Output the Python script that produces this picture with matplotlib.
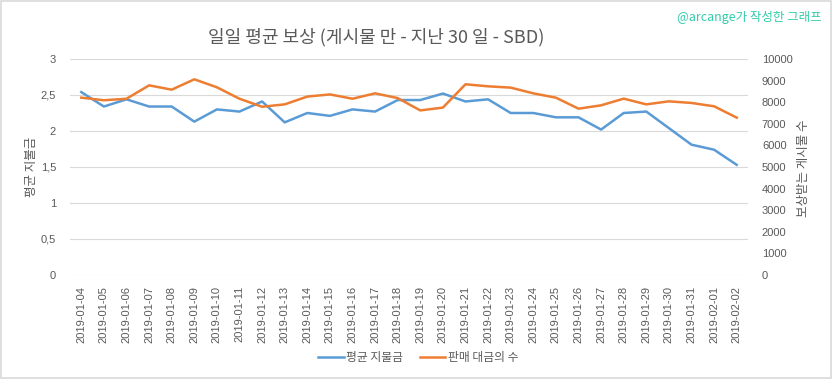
import numpy as np
import matplotlib
matplotlib.use("Agg")
from matplotlib import pyplot as plt
from matplotlib.patches import Rectangle

plt.rcParams['font.family'] = ['Noto Sans CJK KR', 'DejaVu Sans']

dates = ['2019-01-04', '2019-01-05', '2019-01-06', '2019-01-07', '2019-01-08',
         '2019-01-09', '2019-01-10', '2019-01-11', '2019-01-12', '2019-01-13',
         '2019-01-14', '2019-01-15', '2019-01-16', '2019-01-17', '2019-01-18',
         '2019-01-19', '2019-01-20', '2019-01-21', '2019-01-22', '2019-01-23',
         '2019-01-24', '2019-01-25', '2019-01-26', '2019-01-27', '2019-01-28',
         '2019-01-29', '2019-01-30', '2019-01-31', '2019-02-01', '2019-02-02']

pago_medio = [2.54, 2.34, 2.44, 2.34, 2.34, 2.13, 2.30, 2.27, 2.41, 2.12,
              2.25, 2.21, 2.30, 2.27, 2.43, 2.43, 2.52, 2.41, 2.44, 2.25,
              2.25, 2.19, 2.19, 2.02, 2.25, 2.27, 2.04, 1.81, 1.74, 1.53]

num_posts = [8210, 8090, 8160, 8780, 8580, 9060, 8690, 8160, 7790, 7900,
             8260, 8360, 8160, 8410, 8190, 7620, 7750, 8830, 8735, 8675,
             8410, 8210, 7700, 7855, 8165, 7900, 8040, 7965, 7810, 7285]

izq_ticks = [0, 0.5, 1, 1.5, 2, 2.5, 3]
izq_labels = ['0', '0,5', '1', '1,5', '2', '2,5', '3']
der_ticks = list(range(0, 10001, 1000))

AZUL = '#5B9BD5'
NARANJA = '#ED7D31'
GRIS = '#595959'
num_font = ['Liberation Sans', 'DejaVu Sans']

fig = plt.figure(figsize=(8.33, 3.79), dpi=100)
ax = fig.add_axes([70/833, 1-275/379, (748-70)/833, (275-59)/379])
ax2 = ax.twinx()

x = np.arange(len(dates))
l1, = ax.plot(x, pago_medio, color=AZUL, lw=1.8, label='평균 지불금')
l2, = ax2.plot(x, num_posts, color=NARANJA, lw=1.8, label='판매 대금의 수')

ax.set_xlim(-0.5, len(dates) - 0.5)
ax.set_ylim(0, 3)
ax2.set_ylim(0, 10000)
ax.set_yticks(izq_ticks)
ax.set_yticklabels(izq_labels, family=num_font, fontsize=8, color=GRIS)
ax2.set_yticks(der_ticks)
ax2.set_yticklabels([str(t) for t in der_ticks], family=num_font, fontsize=8, color=GRIS)
ax.set_xticks(x)
ax.set_xticklabels(dates, rotation=90, family=num_font, fontsize=8, color=GRIS)

ax.grid(True, axis='y', color='#D9D9D9', lw=0.8)
ax.set_axisbelow(True)
for a in (ax, ax2):
    for s in a.spines.values():
        s.set_visible(False)
    a.tick_params(length=0)
ax.tick_params(axis='y', pad=10)
ax2.tick_params(axis='y', pad=10)
ax.tick_params(axis='x', pad=8)

fig.text(376/833, 1-37/379, '일일 평균 보상 (게시물 만 - 지난 30 일 - SBD)',
         ha='center', va='center', fontsize=13, color=GRIS)
fig.text(822/833, 1-18/379, '@arcange가 작성한 그래프', ha='right', va='center',
         fontsize=9, color='#33CCAA')
fig.text(32/833, 1-167/379, '평균 지불금', rotation=90, ha='center', va='center',
         fontsize=9, color=GRIS)
fig.text(803/833, 1-168/379, '보상받는 게시물 수', rotation=90, ha='center', va='center',
         fontsize=9, color=GRIS)

leg = fig.legend(handles=[l1, l2], loc='center', bbox_to_anchor=(418/833, 1-358/379),
                 ncol=2, frameon=False, fontsize=8.5, handlelength=2.2,
                 handletextpad=0.2, columnspacing=1.4)
for t in leg.get_texts():
    t.set_color(GRIS)

fig.patches.append(Rectangle((0.001, 0.002), 0.997, 0.995, transform=fig.transFigure,
                             fill=False, edgecolor='#D9D9D9', lw=1.2))

fig.savefig('out.png', dpi=100)
